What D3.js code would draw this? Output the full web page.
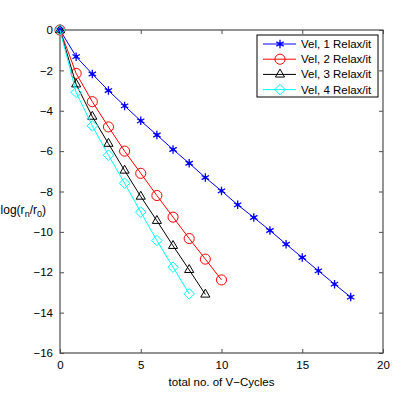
<!DOCTYPE html>
<html>
<head>
<meta charset="utf-8">
<script src="https://cdn.jsdelivr.net/npm/d3@7"></script>
<style>
  body { margin: 0; background: #fff; }
  svg { display: block; font-family: Helvetica, Arial, "Liberation Sans", sans-serif; }
</style>
</head>
<body>
<svg id="chart" width="414" height="399"></svg>
<script>
// residual history, log(r_n/r_0) per V-cycle
const relax1 = [0, -1.32, -2.18, -3.0, -3.76, -4.5, -5.2, -5.92, -6.6, -7.31, -7.97, -8.66, -9.29, -9.93, -10.61, -11.27, -11.93, -12.59, -13.23]
const relax2 = [0, -2.15, -3.55, -4.8, -6.0, -7.1, -8.2, -9.27, -10.33, -11.35, -12.38]
const relax3 = [0, -2.69, -4.29, -5.63, -6.96, -8.25, -9.45, -10.69, -11.88, -13.1]
const relax4 = [0, -3.09, -4.75, -6.2, -7.59, -9.02, -10.43, -11.75, -13.07]

const seriesNames = ['Vel, 1 Relax/it', 'Vel, 2 Relax/it', 'Vel, 3 Relax/it', 'Vel, 4 Relax/it']
const xTicks = [0, 5, 10, 15, 20]
const yTicks = [0, -2, -4, -6, -8, -10, -12, -14, -16]

const series = [
  { name: seriesNames[0], values: relax1, color: '#0000ff', marker: 'star' },
  { name: seriesNames[1], values: relax2, color: '#ff0000', marker: 'circle' },
  { name: seriesNames[2], values: relax3, color: '#000000', marker: 'triangle' },
  { name: seriesNames[3], values: relax4, color: '#00ffff', marker: 'diamond' }
]

const margin = { top: 30, right: 31, bottom: 46, left: 60 }
const width = 414 - margin.left - margin.right
const height = 399 - margin.top - margin.bottom

const svg = d3.select('#chart')
const g = svg.append('g').attr('transform', `translate(${margin.left},${margin.top})`)

const x = d3.scaleLinear().domain([0, 20]).range([0, width])
const y = d3.scaleLinear().domain([-16, 0]).range([height, 0])

const fmt = d => String(d).replace('-', '\u2212')
const axisColor = '#4d4d4d'
const fontSize = '11.5px'

function styleAxis(sel) {
  sel.select('.domain').remove()
  sel.selectAll('.tick line').attr('stroke', axisColor)
  sel.selectAll('.tick text').attr('fill', '#000').style('font-size', fontSize)
}

g.append('g')
  .attr('transform', `translate(0,${height})`)
  .call(d3.axisBottom(x).tickValues(xTicks).tickFormat(fmt).tickSizeInner(-4).tickPadding(8))
  .call(styleAxis)

g.append('g')
  .call(d3.axisTop(x).tickValues(xTicks).tickFormat('').tickSizeInner(-4))
  .call(styleAxis)

g.append('g')
  .call(d3.axisLeft(y).tickValues(yTicks).tickFormat(fmt).tickSizeInner(-4).tickPadding(7))
  .call(styleAxis)

g.append('g')
  .attr('transform', `translate(${width},0)`)
  .call(d3.axisRight(y).tickValues(yTicks).tickFormat('').tickSizeInner(-4))
  .call(styleAxis)

g.append('rect')
  .attr('width', width)
  .attr('height', height)
  .attr('fill', 'none')
  .attr('stroke', axisColor)
  .attr('stroke-width', 1.2)

// markers
const symbols = {
  star: d3.symbol().type(d3.symbolAsterisk).size(50),
  circle: d3.symbol().type(d3.symbolCircle).size(80),
  triangle: d3.symbol().type(d3.symbolTriangle2).size(60),
  diamond: d3.symbol().type(d3.symbolDiamond2).size(70)
}

function drawMarker(sel, s) {
  if (s.marker === 'star') {
    sel.append('path')
      .attr('d', symbols.star())
      .attr('fill', 'none')
      .attr('stroke', s.color)
      .attr('stroke-width', 1.3)
    sel.append('circle').attr('r', 1.8).attr('fill', s.color)
  } else {
    sel.append('path')
      .attr('d', symbols[s.marker]())
      .attr('fill', 'none')
      .attr('stroke', s.color)
      .attr('stroke-width', 1)
  }
}

const line = d3.line()
  .x((d, i) => x(i))
  .y(d => y(d))

series.forEach(s => {
  g.append('path')
    .datum(s.values)
    .attr('d', line)
    .attr('fill', 'none')
    .attr('stroke', s.color)
    .attr('stroke-width', 1)

  g.append('g').selectAll('g')
    .data(s.values)
    .join('g')
    .attr('transform', (d, i) => `translate(${x(i)},${y(d)})`)
    .each(function () { drawMarker(d3.select(this), s) })
})

// legend
const legend = svg.append('g').attr('transform', 'translate(257,35)')
legend.append('rect')
  .attr('width', 121)
  .attr('height', 62)
  .attr('fill', '#fff')
  .attr('stroke', '#000')
  .attr('stroke-width', 1)

series.forEach((s, i) => {
  const row = legend.append('g').attr('transform', `translate(0,${9 + i * 15.2})`)
  row.append('line')
    .attr('x1', 6).attr('x2', 39)
    .attr('stroke', s.color)
    .attr('stroke-width', 1)
  drawMarker(row.append('g').attr('transform', 'translate(23,0)'), s)
  row.append('text')
    .attr('x', 44)
    .attr('dy', '0.35em')
    .style('font-size', fontSize)
    .text(s.name)
})

// axis labels
svg.append('text')
  .attr('x', margin.left + width / 2)
  .attr('y', 386)
  .attr('text-anchor', 'middle')
  .style('font-size', fontSize)
  .text('total no. of V\u2212Cycles')

const ylab = svg.append('text')
  .attr('x', 46)
  .attr('y', 214)
  .attr('text-anchor', 'end')
  .style('font-size', '12px')
ylab.append('tspan').text('log(r')
ylab.append('tspan').attr('dy', 3).style('font-size', '9px').text('n')
ylab.append('tspan').attr('dy', -3).text('/r')
ylab.append('tspan').attr('dy', 3).style('font-size', '9px').text('0')
ylab.append('tspan').attr('dy', -3).text(')')
</script>
</body>
</html>
